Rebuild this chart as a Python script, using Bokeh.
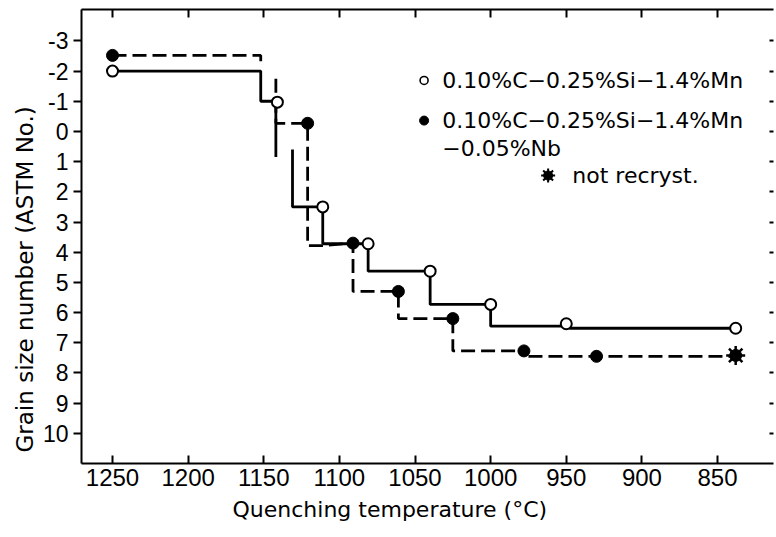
import math
from bokeh.plotting import figure
from bokeh.models import Range1d, LinearAxis, FixedTicker, Title, ColumnDataSource
from bokeh.core.properties import value
from bokeh.embed import file_html
from bokeh.resources import INLINE

nan = float("nan")

# ---- data ----
# 0.10%C-0.25%Si-1.4%Mn (open circles, solid line)
temp_plain = [1250, 1141, 1111, 1081, 1040, 1000, 950, 838]
gs_plain = [-2.0, -0.97, 2.5, 3.72, 4.63, 5.73, 6.37, 6.52]
# 0.10%C-0.25%Si-1.4%Mn-0.05%Nb (filled circles, dashed line)
temp_nb = [1250, 1121, 1091, 1061, 1025, 978, 930]
gs_nb = [-2.52, -0.27, 3.70, 5.30, 6.20, 7.27, 7.45]
# not recrystallised
temp_nr = [838]
gs_nr = [7.42]

# step paths as drawn in the original (vertices, NaN = pen lifted)
path_plain_t = [1250, 1152, 1152, 1141, nan, 1142, 1142, nan, 1131, 1131, 1111, 1111, 1081, 1081,
                1040, 1040, 1000, 1000, 952, nan, 948, 838]
path_plain_g = [-2.0, -2.0, -1.0, -1.0, nan, -0.97, 0.85, nan, 0.6, 2.5, 2.5, 3.72, 3.72, 4.63,
                4.63, 5.73, 5.73, 6.45, 6.45, nan, 6.52, 6.52]
path_nb_t = [1250, 1152, 1152, nan, 1142, 1142, 1121, 1121, 1111, 1091, 1091, 1061, 1061,
             1025, 1025, 978, nan, 975, 838]
path_nb_g = [-2.52, -2.52, -2.2, nan, -1.75, -0.27, -0.27, 3.78, 3.78, 3.70, 5.30, 5.30, 6.20,
             6.20, 7.27, 7.27, nan, 7.45, 7.45]

x_ticks = [1250, 1200, 1150, 1100, 1050, 1000, 950, 900, 850]
y_ticks = [-3, -2, -1, 0, 1, 2, 3, 4, 5, 6, 7, 8, 9, 10]
y_tick_labels = {t: str(t) for t in y_ticks}

legend_labels = ["0.10%C\u22120.25%Si\u22121.4%Mn", "0.10%C\u22120.25%Si\u22121.4%Mn",
                 "\u22120.05%Nb", "not recryst."]

TICK_FONT = "Liberation Sans"
TEXT_FONT = "DejaVu Sans"

p = figure(width=776, height=537,
           x_range=Range1d(1270.5, 813.0), y_range=Range1d(11.0, -4.04),
           output_backend="svg", toolbar_location=None,
           x_axis_location=None, y_axis_location=None,
           min_border_left=81, min_border_top=9, min_border_right=3, min_border_bottom=74,
           outline_line_color=None, background_fill_color="white")
p.xgrid.visible = False
p.ygrid.visible = False

# bottom axis
xb = LinearAxis(ticker=FixedTicker(ticks=x_ticks), major_tick_in=8, major_tick_out=0,
                minor_tick_in=0, minor_tick_out=0, axis_line_width=2, major_tick_line_width=2,
                major_label_standoff=5, major_label_text_font=TICK_FONT,
                major_label_text_font_size="24px", major_label_text_color="black")
p.add_layout(xb, "below")
p.add_layout(Title(text="Quenching  temperature (\u00b0C)", align="left", offset=151,
                   text_font=TEXT_FONT, text_font_size="22px", text_font_style="normal",
                   text_color="black", standoff=12), "below")

# top axis (ticks only)
xt = LinearAxis(ticker=FixedTicker(ticks=x_ticks), major_tick_in=8, major_tick_out=0,
                minor_tick_in=0, minor_tick_out=0, axis_line_width=2, major_tick_line_width=2,
                major_label_standoff=0, major_label_text_font_size="0px",
                major_label_overrides={t: "" for t in x_ticks})
p.add_layout(xt, "above")

# left axis
yl = LinearAxis(ticker=FixedTicker(ticks=y_ticks), major_tick_in=0, major_tick_out=8,
                minor_tick_in=0, minor_tick_out=0, axis_line_width=2, major_tick_line_width=2,
                major_label_standoff=5, major_label_text_font=TICK_FONT,
                major_label_text_font_size="23px", major_label_text_color="black",
                major_label_overrides=y_tick_labels)
p.add_layout(yl, "left")
p.add_layout(Title(text="Grain size number (ASTM  No.)", align="left", offset=11,
                   text_font=TEXT_FONT, text_font_size="23px", text_font_style="normal",
                   text_color="black", standoff=3), "left")

# right axis (ticks only)
yr = LinearAxis(ticker=FixedTicker(ticks=y_ticks), major_tick_in=4, major_tick_out=0,
                minor_tick_in=0, minor_tick_out=0, axis_line_color=None, major_tick_line_width=2,
                major_label_standoff=0, major_label_text_font_size="0px",
                major_label_overrides={t: "" for t in y_ticks})
p.add_layout(yr, "right")

# lines
p.line(path_plain_t, path_plain_g, line_color="black", line_width=2.8)
p.line(path_nb_t, path_nb_g, line_color="black", line_width=2.8, line_dash="14 6")

# points
p.scatter(temp_nb, gs_nb, marker="circle", size=12, fill_color="black", line_color="black")
p.scatter(temp_plain, gs_plain, marker="circle", size=11, fill_color="white",
          line_color="black", line_width=2)
p.scatter(temp_nr, gs_nr, marker="circle", size=12, fill_color="black", line_color="black")
p.scatter(temp_nr, gs_nr, marker="asterisk", size=19, line_color="black", line_width=2.5)

# legend (drawn as annotations in data space)
leg_marker_x = 1044
leg_text_x = 1032
p.scatter([leg_marker_x], [-1.69], marker="circle", size=8, fill_color="white",
          line_color="black", line_width=1.6)
p.scatter([leg_marker_x], [-0.36], marker="circle", size=9, fill_color="black", line_color="black")
p.scatter([962], [1.46], marker="circle", size=9, fill_color="black", line_color="black")
p.scatter([962], [1.46], marker="asterisk", size=14, line_color="black", line_width=2)
leg_src = ColumnDataSource(dict(x=[leg_text_x, leg_text_x, leg_text_x, 946],
                                y=[-1.69, -0.36, 0.56, 1.46], t=legend_labels))
p.text(x="x", y="y", text="t", source=leg_src, text_font=value(TEXT_FONT),
       text_font_size="22px", text_align="left", text_baseline="middle", text_color="black")

open("out.html", "w").write(file_html(p, INLINE))
